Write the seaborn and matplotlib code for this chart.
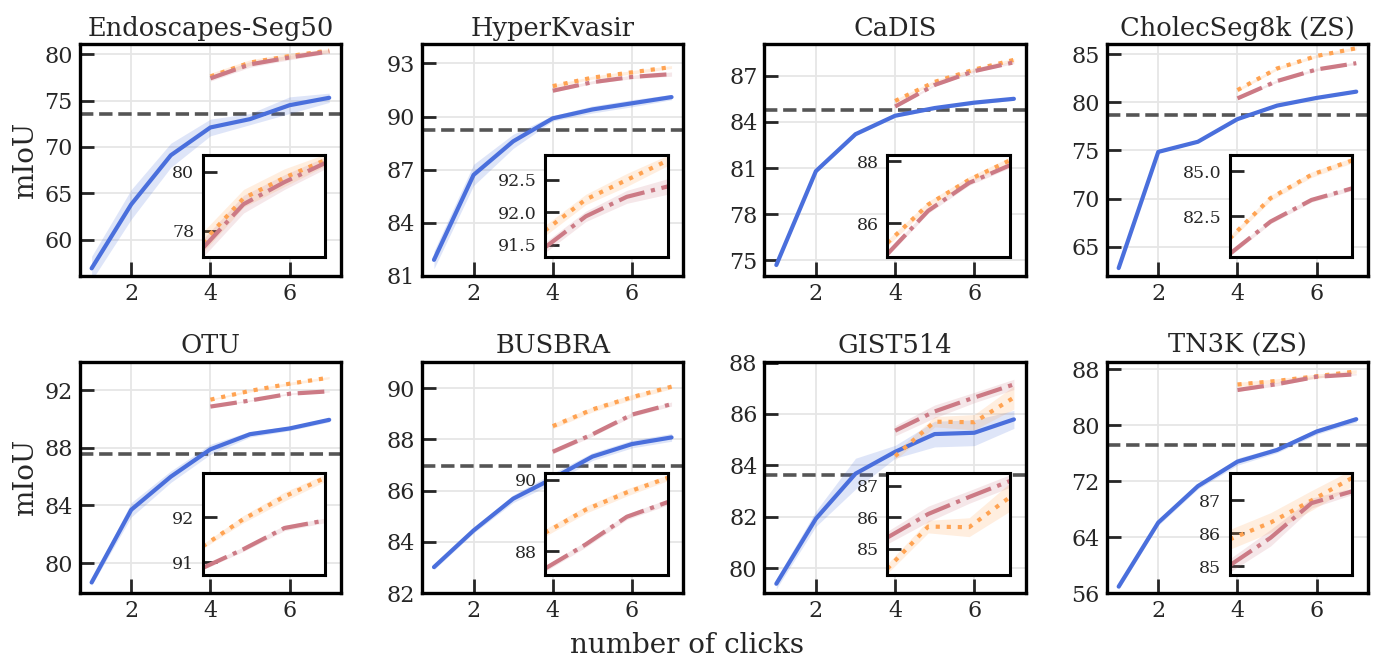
import matplotlib
matplotlib.use("Agg")
import matplotlib.pyplot as plt
import pandas as pd
import seaborn as sns


CLICKS = [1, 2, 3, 4, 5, 6, 7]
REFINE_CLICKS = [4, 5, 6, 7]

TITLES = ["Endoscapes-Seg50", "HyperKvasir", "CaDIS", "CholecSeg8k (ZS)",
          "OTU", "BUSBRA", "GIST514", "TN3K (ZS)"]

# main method (blue, solid) over 1..7 clicks
BASE_MEAN = [
    [56.9, 63.8, 69.1, 72.1, 73.0, 74.5, 75.3],
    [81.9, 86.7, 88.6, 89.9, 90.4, 90.75, 91.1],
    [74.7, 80.8, 83.2, 84.4, 84.9, 85.25, 85.5],
    [62.8, 74.85, 75.9, 78.25, 79.65, 80.45, 81.1],
    [78.65, 83.7, 86.0, 87.9, 88.95, 89.35, 89.95],
    [83.02, 84.45, 85.69, 86.48, 87.33, 87.82, 88.08],
    [79.4, 81.93, 83.68, 84.53, 85.22, 85.27, 85.79],
    [56.95, 66.1, 71.3, 74.8, 76.47, 79.1, 80.86],
]
BASE_STD = [
    [1.3, 1.6, 1.3, 0.9, 0.6, 0.9, 0.5],
    [0.5, 0.6, 0.4, 0.15, 0.2, 0.2, 0.15],
    [0.15, 0.1, 0.1, 0.1, 0.1, 0.1, 0.1],
    [0.15, 0.1, 0.1, 0.1, 0.1, 0.1, 0.1],
    [0.2, 0.5, 0.4, 0.35, 0.2, 0.15, 0.15],
    [0.1, 0.1, 0.15, 0.2, 0.15, 0.15, 0.15],
    [0.2, 0.3, 0.6, 0.25, 0.5, 0.5, 0.35],
    [0.4, 0.4, 0.4, 0.5, 0.4, 0.4, 0.4],
]

# refinement variants (orange dotted / pink dash-dot) from click 4
ORANGE_MEAN = [
    [77.6, 79.1, 79.8, 80.4],
    [91.72, 92.2, 92.5, 92.8],
    [85.36, 86.6, 87.4, 88.03],
    [81.26, 83.5, 84.8, 85.6],
    [91.35, 91.96, 92.46, 92.88],
    [88.52, 89.17, 89.65, 90.06],
    [84.36, 85.7, 85.68, 86.64],
    [85.82, 86.33, 87.0, 87.69],
]
ORANGE_STD = [
    [0.35, 0.3, 0.3, 0.2],
    [0.08, 0.08, 0.1, 0.08],
    [0.1, 0.1, 0.1, 0.1],
    [0.15, 0.15, 0.15, 0.15],
    [0.05, 0.08, 0.1, 0.08],
    [0.1, 0.1, 0.1, 0.08],
    [0.15, 0.2, 0.3, 0.45],
    [0.3, 0.3, 0.3, 0.25],
]
PINK_MEAN = [
    [77.4, 78.9, 79.65, 80.3],
    [91.46, 91.94, 92.24, 92.4],
    [85.0, 86.4, 87.3, 87.87],
    [80.4, 82.2, 83.4, 84.05],
    [90.87, 91.29, 91.76, 91.93],
    [87.52, 88.2, 88.97, 89.38],
    [85.35, 86.1, 86.64, 87.15],
    [85.03, 85.87, 86.92, 87.28],
]
PINK_STD = [
    [0.3, 0.3, 0.25, 0.2],
    [0.08, 0.08, 0.1, 0.12],
    [0.08, 0.08, 0.08, 0.08],
    [0.12, 0.12, 0.12, 0.12],
    [0.04, 0.05, 0.06, 0.05],
    [0.08, 0.08, 0.08, 0.08],
    [0.2, 0.25, 0.2, 0.2],
    [0.2, 0.25, 0.15, 0.1],
]

# dashed reference level
REFERENCE = [73.5, 89.25, 84.74, 78.7, 87.55, 86.96, 83.64, 77.2]

YLIMS = [(56.1, 81.1), (81.0, 94.1), (74.0, 89.06), (62.0, 86.04),
         (77.9, 94.0), (82.0, 91.04), (79.03, 88.04), (56.0, 89.1)]
YTICKS = [[60, 65, 70, 75, 80], [81, 84, 87, 90, 93], [75, 78, 81, 84, 87],
          [65, 70, 75, 80, 85], [80, 84, 88, 92], [82, 84, 86, 88, 90],
          [80, 82, 84, 86, 88], [56, 64, 72, 80, 88]]
INSET_YLIMS = [(77.1, 80.56), (91.31, 92.88), (84.9, 88.19), (80.22, 85.88),
               (90.72, 92.99), (87.35, 90.2), (84.17, 87.41), (84.75, 87.84)]
INSET_YTICKS = [[78, 80], [91.5, 92.0, 92.5], [86, 88], [82.5, 85.0],
                [91, 92], [88, 90], [85, 86, 87], [85, 86, 87]]

BLUE = "#4a6fdc"
ORANGE = "#ffa352"
PINK = "#cc7a85"


def draw_series(ax, x, mean, std, color, style, lw):
    frame = pd.DataFrame({"x": x, "y": mean})
    lo = [m - s for m, s in zip(mean, std)]
    hi = [m + s for m, s in zip(mean, std)]
    ax.fill_between(x, lo, hi, color=color, alpha=0.18, linewidth=0)
    sns.lineplot(data=frame, x="x", y="y", color=color, linestyle=style,
                 linewidth=lw, errorbar=None, ax=ax)


def main() -> None:
    sns.set_theme(style="whitegrid")
    plt.rcParams["font.family"] = ["DejaVu Serif"]
    plt.rcParams["axes.edgecolor"] = "black"
    plt.rcParams["grid.color"] = "#e6e6e6"

    fig, axes = plt.subplots(2, 4, figsize=(13.75, 6.57), dpi=100)
    fig.subplots_adjust(left=0.058, right=0.995, top=0.933, bottom=0.097,
                        wspace=0.31, hspace=0.37)

    for i, ax in enumerate(axes.flat):
        ax.axhline(REFERENCE[i], color="#555555", linestyle="--", linewidth=2.6, zorder=1)
        draw_series(ax, CLICKS, BASE_MEAN[i], BASE_STD[i], BLUE, "-", 3.0)
        draw_series(ax, REFINE_CLICKS, ORANGE_MEAN[i], ORANGE_STD[i], ORANGE, ":", 3.0)
        draw_series(ax, REFINE_CLICKS, PINK_MEAN[i], PINK_STD[i], PINK, "-.", 3.0)

        ax.set_title(TITLES[i], fontsize=18.5, pad=6)
        ax.set_xlim(0.7, 7.3)
        ax.set_xticks([2, 4, 6])
        ax.set_ylim(*YLIMS[i])
        ax.set_yticks(YTICKS[i])
        ax.set_xlabel("")
        ax.set_ylabel("mIoU" if i % 4 == 0 else "", fontsize=20)
        ax.tick_params(direction="in", length=10, width=2, labelsize=16,
                       bottom=True, left=True, pad=5)
        ax.grid(True, linewidth=1.3)
        for spine in ax.spines.values():
            spine.set_linewidth(2.4)
            spine.set_color("black")

        ins = ax.inset_axes([0.47, 0.08, 0.47, 0.44])
        ins.set_facecolor("white")
        draw_series(ins, REFINE_CLICKS, ORANGE_MEAN[i], ORANGE_STD[i], ORANGE, ":", 3.0)
        draw_series(ins, REFINE_CLICKS, PINK_MEAN[i], PINK_STD[i], PINK, "-.", 3.0)
        ins.set_xlim(4, 7)
        ins.set_ylim(*INSET_YLIMS[i])
        ins.set_yticks(INSET_YTICKS[i])
        ins.set_xticks([])
        ins.set_xlabel("")
        ins.set_ylabel("")
        ins.grid(False)
        ins.tick_params(axis="y", direction="in", length=10, width=2,
                        labelsize=12.5, left=True, pad=6)
        for spine in ins.spines.values():
            spine.set_linewidth(2.2)
            spine.set_color("black")

    fig.text(0.5, 0.018, "number of clicks", ha="center", va="center", fontsize=20)
    fig.savefig("out.png", dpi=100)
    plt.close(fig)


if __name__ == "__main__":
    main()
